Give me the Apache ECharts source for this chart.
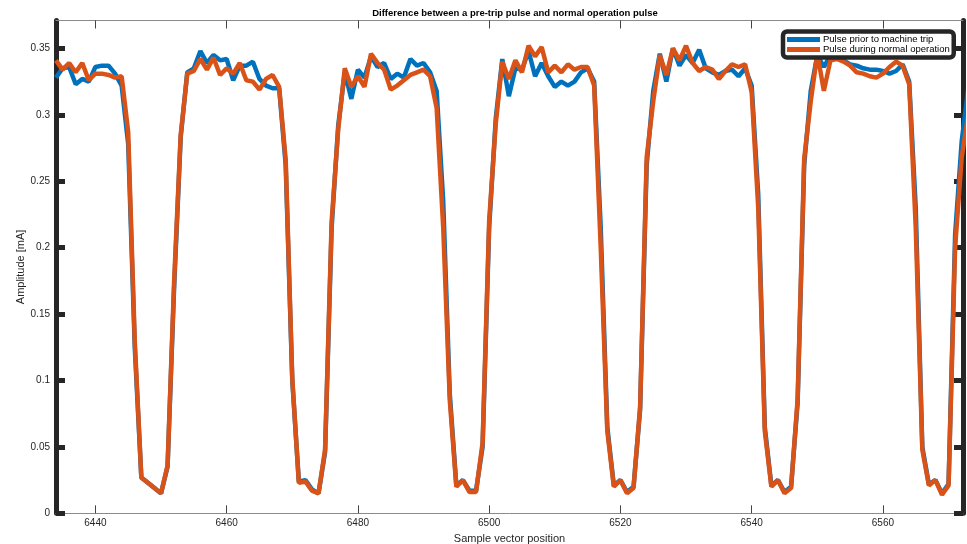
<!DOCTYPE html>
<html>
<head>
<meta charset="utf-8">
<script src="https://cdn.jsdelivr.net/npm/echarts@6/dist/echarts.min.js"></script>
<style>
html,body{margin:0;padding:0;background:#fff;overflow:hidden;}
#chart{width:967px;height:544px;}
</style>
</head>
<body>
<div id="chart"></div>
<script>
// Sample positions 6434..6573
var startSample = 6434;
var pulsePrior = [
 0.328,0.335,0.336,0.323,0.327,0.325,0.336,0.337,0.337,0.331,
 0.322,0.278,0.125,0.027,0.023,0.019,0.015,0.035,0.170,0.283,
 0.332,0.335,0.348,0.339,0.345,0.341,0.342,0.326,0.337,0.337,
 0.340,0.327,0.322,0.320,0.320,0.262,0.100,0.024,0.025,0.018,
 0.015,0.046,0.215,0.292,0.332,0.312,0.334,0.328,0.344,0.336,
 0.339,0.327,0.331,0.328,0.342,0.337,0.339,0.332,0.318,0.235,
 0.090,0.021,0.025,0.017,0.017,0.050,0.215,0.297,0.342,0.314,
 0.335,0.334,0.348,0.329,0.339,0.329,0.321,0.325,0.322,0.325,
 0.332,0.335,0.325,0.215,0.065,0.021,0.025,0.016,0.020,0.078,
 0.262,0.318,0.346,0.325,0.350,0.337,0.345,0.339,0.349,0.335,
 0.332,0.330,0.333,0.334,0.329,0.335,0.322,0.240,0.065,0.021,
 0.025,0.016,0.020,0.083,0.262,0.318,0.345,0.336,0.345,0.344,
 0.341,0.338,0.337,0.335,0.334,0.334,0.333,0.331,0.333,0.338,
 0.325,0.230,0.050,0.022,0.025,0.015,0.022,0.210,0.280,0.320
];
var pulseNormal = [
 0.341,0.334,0.339,0.332,0.339,0.326,0.331,0.331,0.330,0.328,
 0.329,0.287,0.130,0.027,0.023,0.019,0.015,0.036,0.175,0.285,
 0.331,0.333,0.342,0.334,0.343,0.330,0.335,0.331,0.339,0.326,
 0.325,0.319,0.327,0.330,0.321,0.266,0.102,0.023,0.024,0.017,
 0.015,0.048,0.220,0.289,0.335,0.321,0.329,0.321,0.346,0.339,
 0.334,0.319,0.322,0.326,0.330,0.332,0.334,0.329,0.305,0.215,
 0.085,0.020,0.025,0.016,0.016,0.053,0.220,0.293,0.340,0.327,
 0.341,0.332,0.352,0.344,0.351,0.332,0.337,0.332,0.338,0.334,
 0.336,0.336,0.322,0.200,0.062,0.020,0.025,0.015,0.019,0.080,
 0.268,0.310,0.345,0.330,0.350,0.341,0.352,0.339,0.333,0.336,
 0.334,0.327,0.333,0.338,0.336,0.338,0.317,0.230,0.062,0.020,
 0.025,0.015,0.019,0.086,0.267,0.310,0.346,0.318,0.341,0.342,
 0.340,0.337,0.332,0.331,0.329,0.328,0.331,0.336,0.340,0.337,
 0.323,0.215,0.048,0.021,0.025,0.014,0.021,0.200,0.268,0.300
];
var xTickValues = [6440,6460,6480,6500,6520,6540,6560];
var yTickValues = [0,0.05,0.1,0.15,0.2,0.25,0.3,0.35];
var seriesNames = ['Pulse prior to machine trip','Pulse during normal operation'];
var titleText = 'Difference between a pre-trip pulse and normal operation pulse';
var xName = 'Sample vector position';
var yName = 'Amplitude [mA]';

function pairs(arr){
  var out = [];
  for (var i = 0; i < arr.length; i++) out.push([startSample + i, arr[i]]);
  return out;
}

var FONT = '"Liberation Sans", Arial, Helvetica, sans-serif';
var TXT = '#262626';
var chart = echarts.init(document.getElementById('chart'), null, {renderer:'canvas'});

var xBase = {
  type:'value', min:6434, max:6572.2,
  axisLine:{show:true, onZero:false, lineStyle:{color:'#8a8a8a', width:1}},
  splitLine:{show:false}
};
var yBase = {
  type:'value', min:0, max:0.371,
  axisLine:{show:true, onZero:false, lineStyle:{color:'#262626', width:5}},
  splitLine:{show:false}
};

chart.setOption({
  animation:false,
  backgroundColor:'#ffffff',
  title:{
    text:titleText, left:510, top:3, textAlign:'center',
    textStyle:{fontFamily:FONT, fontSize:9.5, fontWeight:'bold', color:'#000'}
  },
  grid:{left:56, right:4, top:20.5, bottom:30.7, containLabel:false, outerBoundsMode:'none'},
  legend:{
    data:seriesNames, orient:'vertical', left:783, top:31.5,
    backgroundColor:'#ffffff', borderColor:'#262626', borderWidth:4.5, borderRadius:4,
    padding:[3,4,3,4], itemGap:0, itemWidth:33, itemHeight:5, icon:'rect',
    textStyle:{fontFamily:FONT, fontSize:9.5, color:'#000', lineHeight:10, padding:[0,0,0,-2]}
  },
  xAxis:[
    Object.assign({}, xBase, {
      position:'bottom',
      name:xName, nameLocation:'middle', nameGap:17,
      nameTextStyle:{fontFamily:FONT, fontSize:11, color:TXT},
      axisTick:{show:true, inside:true, length:8, lineStyle:{color:'#444', width:1}, customValues:xTickValues},
      axisLabel:{show:true, margin:5, fontFamily:FONT, fontSize:10, color:TXT, customValues:xTickValues,
        formatter:function(v){return String(v);}}
    }),
    Object.assign({}, xBase, {
      position:'top',
      axisTick:{show:true, inside:true, length:8, lineStyle:{color:'#444', width:1}, customValues:xTickValues},
      axisLabel:{show:false}
    })
  ],
  yAxis:[
    Object.assign({}, yBase, {
      position:'left',
      name:yName, nameLocation:'middle', nameGap:30, nameRotate:90, nameMoveOverlap:false,
      nameTextStyle:{fontFamily:FONT, fontSize:11, color:TXT},
      axisTick:{show:true, inside:true, length:9, lineStyle:{color:'#262626', width:5}, customValues:yTickValues},
      axisLabel:{show:true, margin:6, fontFamily:FONT, fontSize:10, color:TXT, customValues:yTickValues,
        formatter:function(v){return String(v);}}
    }),
    Object.assign({}, yBase, {
      position:'right',
      axisTick:{show:true, inside:true, length:9, lineStyle:{color:'#262626', width:5}, customValues:yTickValues},
      axisLabel:{show:false}
    })
  ],
  series:[
    {name:seriesNames[0], type:'line', data:pairs(pulsePrior), showSymbol:false, symbol:'none',
     color:'#0072BD', lineStyle:{color:'#0072BD', width:4.5}, clip:true, z:2},
    {name:seriesNames[1], type:'line', data:pairs(pulseNormal), showSymbol:false, symbol:'none',
     color:'#D95319', lineStyle:{color:'#D95319', width:4.5}, clip:true, z:3}
  ]
});
</script>
</body>
</html>
